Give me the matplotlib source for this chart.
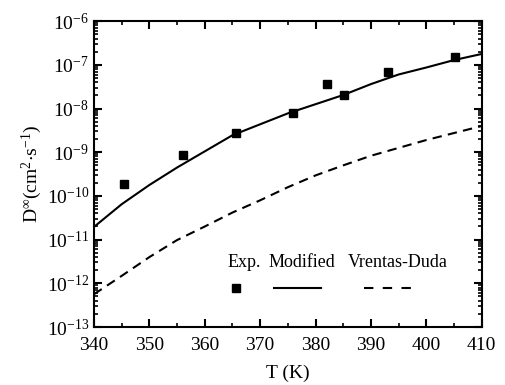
import matplotlib
matplotlib.use('Agg')
import matplotlib.pyplot as plt
import numpy as np

plt.rcParams['font.family'] = ['Liberation Serif', 'DejaVu Serif']
plt.rcParams['mathtext.fontset'] = 'custom'
plt.rcParams['mathtext.rm'] = 'Liberation Serif'
plt.rcParams['mathtext.it'] = 'Liberation Serif:italic'
plt.rcParams['mathtext.default'] = 'regular'

# experimental points
T_exp = [345.4, 356.1, 365.6, 376.0, 382.1, 385.2, 393.1, 405.1]
D_exp = [1.86e-10, 8.5e-10, 2.75e-9, 7.9e-9, 3.7e-8, 2.0e-8, 6.8e-8, 1.5e-7]

# model curves (log10 D)
T_model = [340, 345, 350, 355, 360, 365, 370, 375, 380, 385, 390, 395, 400, 405, 410]
logD_modified = [-10.71, -10.19, -9.75, -9.35, -8.98, -8.61, -8.36, -8.11, -7.90,
                 -7.69, -7.44, -7.22, -7.06, -6.89, -6.75]
logD_vd = [-12.25, -11.83, -11.40, -11.01, -10.70, -10.38, -10.10, -9.80, -9.53,
           -9.30, -9.08, -8.90, -8.72, -8.56, -8.40]

fig = plt.figure(figsize=(5.05, 3.85), dpi=100)
ax = fig.add_axes([0.186, 0.1506, 0.768, 0.7944])

ax.plot(T_model, 10 ** np.array(logD_modified), color='black', lw=1.5)
ax.plot(T_model, 10 ** np.array(logD_vd), color='black', lw=1.5, dashes=(4.5, 3))
ax.plot(T_exp, D_exp, 's', color='black', ms=6)

ax.set_yscale('log')
ax.set_xlim(340, 410)
ax.set_ylim(1e-13, 1e-6)
ax.set_xticks(np.arange(340, 411, 10))
ax.set_xticks(np.arange(345, 410, 10), minor=True)
ax.set_yticks([10.0 ** k for k in range(-13, -5)])

for s in ax.spines.values():
    s.set_linewidth(1.5)
ax.tick_params(which='both', direction='in', top=True, right=True, labelsize=14)
ax.tick_params(which='major', length=6, width=1.5)
ax.tick_params(which='minor', length=3, width=1.2)
ax.tick_params(axis='x', pad=7)

ax.set_xlabel('T (K)', fontsize=14, labelpad=8)
ax.set_ylabel(r'D$^{\infty}$(cm$^{2}$$\cdot$s$^{-1}$)', fontsize=14, labelpad=2)

# legend, drawn by hand: labels above the symbols
tr = ax.transAxes
ax.text(0.345, 0.212, 'Exp.', transform=tr, fontsize=13, va='center', ha='left')
ax.text(0.451, 0.212, 'Modified', transform=tr, fontsize=13, va='center', ha='left')
ax.text(0.655, 0.212, 'Vrentas-Duda', transform=tr, fontsize=13, va='center', ha='left')
ax.plot([0.366], [0.127], 's', color='black', ms=6, transform=tr)
ax.plot([0.464, 0.585], [0.127, 0.127], color='black', lw=1.5, transform=tr)
ax.plot([0.696, 0.820], [0.127, 0.127], color='black', lw=1.5, dashes=(4.5, 4.5),
        transform=tr)

fig.savefig('out.png', dpi=100)
